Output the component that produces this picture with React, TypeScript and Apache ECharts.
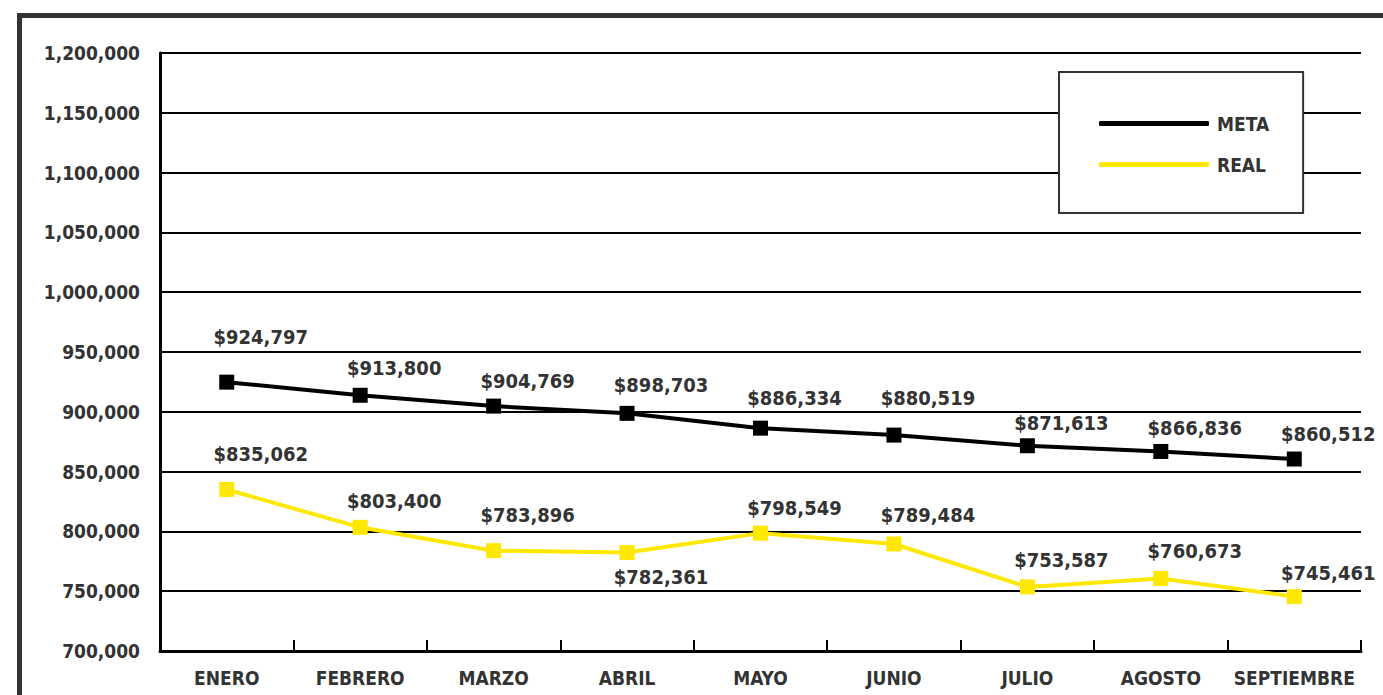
import React, { useEffect, useRef } from "react";
import * as echarts from "echarts";

const months = ["ENERO", "FEBRERO", "MARZO", "ABRIL", "MAYO", "JUNIO", "JULIO", "AGOSTO", "SEPTIEMBRE"];
const metaValues = [924797, 913800, 904769, 898703, 886334, 880519, 871613, 866836, 860512];
const realValues = [835062, 803400, 783896, 782361, 798549, 789484, 753587, 760673, 745461];

// label vertical offsets (style only)
const metaLabelDy = [-45, -27, -25, -28, -30, -37, -23, -23, -25];
const realLabelDy = [-35, -26, -36, 25, -25, -29, -27, -27, -24];
const labelDx = 34;

const FONT = "'Liberation Sans Narrow', 'DejaVu Sans Condensed', 'Roboto Condensed', sans-serif";
const TEXT = "#333333";

const fmt = (v: number) => "$" + v.toLocaleString("en-US");

export default function App() {
  const ref = useRef<HTMLDivElement>(null);
  useEffect(() => {
    if (!ref.current) return;
    const chart = echarts.init(ref.current, null, { renderer: "svg" });
    const mkData = (vals: number[], dys: number[]) =>
      vals.map((v, i) => ({
        value: v,
        label: { offset: [labelDx, dys[i]] },
      }));
    const lbl = {
      show: true,
      position: "inside",
      fontFamily: FONT,
      fontSize: 20,
      fontWeight: "bold",
      color: TEXT,
      formatter: (p: any) => fmt(p.value),
    };
    chart.setOption({
      animation: false,
      backgroundColor: "#ffffff",
      textStyle: { fontFamily: FONT },
      grid: { left: 160, top: 53, right: 22, bottom: 44 },
      legend: {
        orient: "vertical",
        left: 1059,
        top: 72,
        padding: [42, 34, 39, 40],
        itemGap: 22,
        itemWidth: 110,
        itemHeight: 5,
        icon: "roundRect",
        backgroundColor: "#ffffff",
        borderColor: "#333333",
        borderWidth: 2,
        borderRadius: 0,
        z: 10,
        textStyle: { fontFamily: FONT, fontSize: 19, fontWeight: "bold", color: TEXT, padding: [0, 0, 0, 3] },
        data: ["META", "REAL"],
      },
      xAxis: {
        type: "category",
        data: months,
        boundaryGap: true,
        axisLine: { lineStyle: { color: "#000", width: 3 } },
        axisTick: { show: true, inside: true, interval: 0, length: 11, lineStyle: { color: "#000", width: 2 } },
        axisLabel: { interval: 0, fontFamily: FONT, fontSize: 19, fontWeight: "bold", color: TEXT, margin: 17 },
        splitLine: { show: false },
      },
      yAxis: {
        type: "value",
        min: 700000,
        max: 1200000,
        interval: 50000,
        axisLine: { show: true, lineStyle: { color: "#000", width: 3 } },
        axisTick: { show: false },
        axisLabel: {
          fontFamily: FONT,
          fontSize: 19,
          fontWeight: "bold",
          color: TEXT,
          margin: 20,
          formatter: (v: number) => v.toLocaleString("en-US"),
        },
        splitLine: { show: true, lineStyle: { color: "#000", width: 2 } },
      },
      series: [
        {
          name: "META",
          type: "line",
          data: mkData(metaValues, metaLabelDy),
          symbol: "rect",
          symbolSize: 15,
          itemStyle: { color: "#000000" },
          lineStyle: { color: "#000000", width: 4 },
          label: lbl,
          z: 5,
        },
        {
          name: "REAL",
          type: "line",
          data: mkData(realValues, realLabelDy),
          symbol: "rect",
          symbolSize: 15,
          itemStyle: { color: "#FFE800" },
          lineStyle: { color: "#FFE800", width: 4 },
          label: lbl,
          z: 4,
        },
      ],
      graphic: [
        {
          type: "rect",
          shape: { x: 19.5, y: 15.5, width: 1500, height: 900 },
          style: { fill: "none", stroke: "#333333", lineWidth: 5 },
          silent: true,
        },
      ],
    });
    return () => chart.dispose();
  }, []);
  return <div ref={ref} style={{ position: "fixed", left: 0, top: 0, width: 1383, height: 695 }} />;
}
